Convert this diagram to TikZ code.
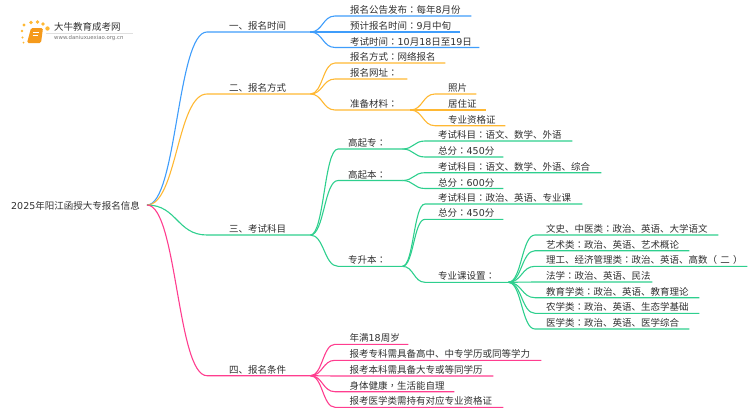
\documentclass[tikz,border=0pt]{standalone}
\usepackage{fontspec}
\setmainfont{Noto Sans CJK SC}
\newfontfamily\tcfont{Noto Sans CJK TC}
\newfontfamily\digitfont{DejaVu Sans}
\usetikzlibrary{calc}
\newcommand{\cl}{{\tcfont ：}}
\newcommand{\nm}[1]{{\digitfont #1}}
\definecolor{textgray}{HTML}{303030}
\definecolor{blueline}{HTML}{3F9DFB}
\definecolor{orangeline}{HTML}{FFB833}
\definecolor{greenline}{HTML}{2ECF8E}
\definecolor{pinkline}{HTML}{FF3D8F}
\definecolor{logoorange}{HTML}{F59A1B}
\tikzset{
    item/.style 2 args = {anchor=south west, inner xsep=0pt, inner ysep=0pt, text height=8pt,
        text depth=2.2pt, text width=#1pt, align=left, execute at begin node={\hspace*{#2pt}}},
    link/.style = {line width=1.1pt, to path={let \p1=(\tikztostart), \p2=(\tikztotarget) in
        .. controls (\x1/2+\x2/2,\y1) and (\x1/2+\x2/2,\y2) .. (\tikztotarget)}},
}
\begin{document}
\begin{tikzpicture}[x=1pt, y=-1pt, font=\fontsize{9.5}{11}\selectfont, text=textgray]
    \useasboundingbox (0,0) rectangle (750,410);

    % logo
    \foreach \dx/\dy/\dr in {22/31/1.4, 24/25/1.6, 31/22.5/1.9, 37.5/22/1.9, 43/24/1.8, 47.5/28.5/2.2, 22.5/37.5/1.2, 23.5/42.5/1}
        \fill[orangeline] (\dx,\dy) circle (\dr);
    \fill[logoorange, rounded corners=1.5pt] (31,28) -- (43,28) -- (41,43) -- (27,43) -- cycle;
    \draw[white, line width=.6pt] (33,32) -- (39,32) (32.5,35) -- (38,35);
    \draw[black!12, line width=.5pt] (46,33) -- (133,33);
    \node[anchor=west, inner sep=0pt] (logotitle) at (54,27) {大牛教育成考网};
    \node[anchor=west, inner sep=0pt, font=\fontsize{5.4}{6}\selectfont, text=black!55] (logourl) at (54,38.5) {\digitfont www.daniuxuexiao.org.cn};

    \node[anchor=west, inner xsep=0pt] (root) at (11,206) {\nm{2025}年阳江函授大专报名信息};
    \coordinate (hub) at (147,205);

    % first level
    \node[item={103}{22}] (time) at (207,32) {一、报名时间};
    \node[item={103}{22}] (way) at (207,94) {二、报名方式};
    \node[item={103}{22}] (exam) at (207,235) {三、考试科目};
    \node[item={103}{22}] (need) at (207,375.7) {四、报名条件};

    % time
    \node[item={136}{15}] (time1) at (335,16) {报名公告发布\cl 每年\nm{8}月份};
    \node[item={125}{15}] (time2) at (335,32) {预计报名时间\cl \nm{9}月中旬};
    \node[item={144}{15}] (time3) at (335,47.5) {考试时间\cl \nm{10}月\nm{18}日至\nm{19}日};

    % way
    \node[item={110}{15}] (way1) at (335,63) {报名方式\cl 网络报名};
    \node[item={72}{15}] (way2) at (335,79) {报名网址\cl};
    \node[item={75}{15}] (way3) at (335,110) {准备材料\cl};
    \node[item={41}{13}] (way31) at (435,94) {照片};
    \node[item={51}{13}] (way32) at (435,110) {居住证};
    \node[item={70}{13}] (way33) at (435,125.7) {专业资格证};

    % exam
    \node[item={64}{10}] (exam1) at (338,149) {高起专\cl};
    \node[item={64}{10}] (exam2) at (338,180.5) {高起本\cl};
    \node[item={64}{10}] (exam3) at (338,266.3) {专升本\cl};
    \node[item={147}{13}] (exam11) at (425,141) {考试科目\cl 语文、数学、外语};
    \node[item={78}{13}] (exam12) at (425,157) {总分\cl \nm{450}分};
    \node[item={176}{13}] (exam21) at (425,172.7) {考试科目\cl 语文、数学、外语、综合};
    \node[item={78}{13}] (exam22) at (425,188.5) {总分\cl \nm{600}分};
    \node[item={157}{13}] (exam31) at (425,204) {考试科目\cl 政治、英语、专业课};
    \node[item={78}{13}] (exam32) at (425,219.3) {总分\cl \nm{450}分};
    \node[item={83}{13}] (exam33) at (425,282.3) {专业课设置\cl};
    \node[item={183}{11}] (major1) at (535,235) {文史、中医类\cl 政治、英语、大学语文};
    \node[item={154}{11}] (major2) at (535,250.7) {艺术类\cl 政治、英语、艺术概论};
    \node[item={212}{11}] (major3) at (535,266.3) {理工、经济管理类\cl 政治、英语、高数（ 二 ）};
    \node[item={117}{11}] (major4) at (535,282) {法学\cl 政治、英语、民法};
    \node[item={164}{11}] (major5) at (535,297.7) {教育学类\cl 政治、英语、教育理论};
    \node[item={164}{11}] (major6) at (535,313.3) {农学类\cl 政治、英语、生态学基础};
    \node[item={154}{11}] (major7) at (535,329) {医学类\cl 政治、英语、医学综合};

    % need
    \node[item={73}{14.5}] (need1) at (335,344.3) {年满\nm{18}周岁};
    \node[item={206}{14.5}] (need2) at (335,360.3) {报考专科需具备高中、中专学历或同等学力};
    \node[item={158}{14.5}] (need3) at (335,376) {报考本科需具备大专或等同学历};
    \node[item={119}{14.5}] (need4) at (335,391.7) {身体健康{\tcfont ，}生活能自理};
    \node[item={168}{14.5}] (need5) at (335,407.3) {报考医学类需持有对应专业资格证};

    \foreach \kid/\col in {time/blueline, way/orangeline, exam/greenline, need/pinkline}
        \draw[link, \col] (hub) to (\kid.south west) -- (\kid.south east);
    \foreach \from/\kid in {time/time1, time/time2, time/time3}
        \draw[link, blueline] (\from.south east) to (\kid.south west) -- (\kid.south east);
    \foreach \from/\kid in {way/way1, way/way2, way/way3, way3/way31, way3/way32, way3/way33}
        \draw[link, orangeline] (\from.south east) to (\kid.south west) -- (\kid.south east);
    \foreach \from/\kid in {exam/exam1, exam/exam2, exam/exam3, exam1/exam11, exam1/exam12,
        exam2/exam21, exam2/exam22, exam3/exam31, exam3/exam32, exam3/exam33, exam33/major1,
        exam33/major2, exam33/major3, exam33/major4, exam33/major5, exam33/major6, exam33/major7}
        \draw[link, greenline] (\from.south east) to (\kid.south west) -- (\kid.south east);
    \foreach \from/\kid in {need/need1, need/need2, need/need3, need/need4, need/need5}
        \draw[link, pinkline] (\from.south east) to (\kid.south west) -- (\kid.south east);
\end{tikzpicture}
\end{document}
